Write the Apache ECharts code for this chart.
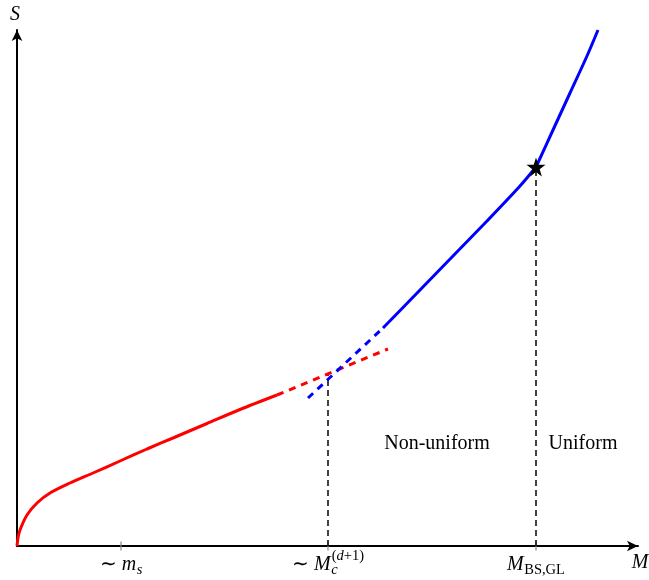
<!DOCTYPE html>
<html><head><meta charset="utf-8">
<script src="https://cdn.jsdelivr.net/npm/echarts@6/dist/echarts.min.js"></script>
<style>html,body{margin:0;padding:0;background:#fff}#c{width:649px;height:580px}</style>
</head><body><div id="c"></div>
<script>
// ---- data (arbitrary units) ----
const redSolid = [[0,0],[1,8],[3,16],[10,31],[20,43],[33,53],[53,63],[76,73],[103,85],[130,97],[156,108],[190,122.5],[223,136.5],[260,151]];
const redDotted = [[260,151],[371,197]];
const blueDashed = [[291,148],[366,218]];
const blueBelowStar = [[366,218],[403,256],[436,290],[470,325],[503,360],[519,379]];
const blueAboveStar = [[519,379],[536,416],[553,453],[570,490],[581,516]];
const critical = [311,171];
const bsPoint = [519,379];
const tickPositions = [104,311,519];
const tickLabels = ['∼ m_s','∼ M_c^{(d+1)}','M_{\\rm BS,GL}'];
const regionNames = ['Non-uniform','Uniform'];
const regionPos = [[420,102],[566,102]];
const xName = 'M', yName = 'S';
const xMax = 621, yMax = 516;

const FONT = '"Liberation Serif","Times New Roman",serif';
const chart = echarts.init(document.getElementById('c'), null, {renderer:'canvas'});
const starPath = 'path://M50,0 L61.8,35.6 L99,35.6 L69,57.6 L80.3,93 L50,71 L19.7,93 L31,57.6 L1,35.6 L38.2,35.6 Z';

const axisCommon = {
  type:'value', splitLine:{show:false}, axisTick:{show:false}, axisLabel:{show:false},
  axisLine:{show:true, symbol:['none','arrow'], symbolSize:[8,11], lineStyle:{color:'#000', width:2}}
};

chart.setOption({
  animation:false,
  grid:{left:17, right:11, top:30, bottom:34},
  xAxis:Object.assign({min:0,max:xMax}, axisCommon),
  yAxis:Object.assign({min:0,max:yMax}, axisCommon),
  series:[
    {type:'line', data:[[critical[0],0],critical], symbol:'none', lineStyle:{color:'#000',width:1.5,type:[6,4]}, z:1},
    {type:'line', data:[[bsPoint[0],0],bsPoint], symbol:'none', lineStyle:{color:'#000',width:1.5,type:[6,4]}, z:1},
    {type:'line', data:redSolid, symbol:'none', smooth:0.3, lineStyle:{color:'#ff0000',width:3}, z:3},
    {type:'line', data:redDotted, symbol:'none', lineStyle:{color:'#ff0000',width:3,type:[7,6]}, z:3},
    {type:'line', data:blueDashed, symbol:'none', lineStyle:{color:'#0000ff',width:3,type:[7,6]}, z:3},
    {type:'line', data:blueBelowStar, symbol:'none', smooth:0.3, lineStyle:{color:'#0000ff',width:3}, z:3},
    {type:'line', data:blueAboveStar, symbol:'none', smooth:0.3, lineStyle:{color:'#0000ff',width:3}, z:3},
    {type:'scatter', data:[bsPoint], symbol:starPath, symbolSize:19, itemStyle:{color:'#000',opacity:1}, z:5},
    {type:'scatter', data:tickPositions.map(x=>[x,0]), symbol:'rect', symbolSize:[1.2,9], itemStyle:{color:'#888',opacity:1}, z:0},
    {type:'scatter', data:regionPos.map((p,i)=>({value:p,name:regionNames[i]})), symbolSize:0, itemStyle:{opacity:1},
      label:{show:true, position:'inside', formatter:'{b}', color:'#000', textBorderWidth:0, fontFamily:FONT, fontSize:20}, z:4}
  ]
});

// ---- tiny math-label renderer ----
const mctx = document.createElement('canvas').getContext('2d');
function measure(t, italic, size){ mctx.font=(italic?'italic ':'')+size+'px '+FONT; return mctx.measureText(t).width; }
function readGroup(s,i){ if(s[i]==='{'){ let d=1,j=i+1; while(d>0){ if(s[j]==='{')d++; else if(s[j]==='}')d--; j++; } return [s.slice(i+1,j-1),j]; } return [s[i],i+1]; }
function segs(s, size){
  let rm=false; if(s.startsWith('\\rm ')){rm=true; s=s.slice(4);}
  const out=[];
  for(const ch of s){ const it = !rm && /[a-zA-Z]/.test(ch); const last=out[out.length-1];
    if(last && last.italic===it) last.t+=ch; else out.push({t:ch,italic:it,size}); }
  return out;
}
function layout(str, base, sub){
  const pieces=[]; let x=0, i=0, plain='';
  const flush=()=>{ if(plain){ for(const sg of segs(plain,base)){ pieces.push(Object.assign(sg,{x,dy:0})); x+=measure(sg.t,sg.italic,sg.size);} plain=''; } };
  while(i<str.length){
    const c=str[i];
    if(c==='_'||c==='^'){
      flush(); let start=x, adv=0, k=i;
      while(k<str.length && (str[k]==='_'||str[k]==='^')){
        const kind=str[k]; const [g,n]=readGroup(str,k+1); k=n;
        let xx=start+(kind==='^'?1:0.5);
        for(const sg of segs(g,sub)){ pieces.push(Object.assign(sg,{x:xx,dy:kind==='_'?4:-10})); xx+=measure(sg.t,sg.italic,sg.size);} adv=Math.max(adv,xx-start);
      }
      x=start+adv; i=k;
    } else { plain+=c; i++; }
  }
  flush();
  return {pieces,width:x};
}
function mathText(str, cx, baseline, base, sub){
  const L=layout(str, base, sub); const x0=cx-L.width/2;
  return L.pieces.map(p=>({type:'text', silent:true, x:x0+p.x, y:baseline+p.dy-0.3375*p.size,
    style:{text:p.t, font:(p.italic?'italic ':'')+p.size+'px '+FONT, fill:'#000', textAlign:'left', textVerticalAlign:'middle'}}));
}

function addGraphics(){
  const g=[];
  tickPositions.forEach((v,i)=>{
    const px=chart.convertToPixel({xAxisIndex:0}, v);
    g.push(...mathText(tickLabels[i], px, 571, 20, 14.5));
  });
  const xEnd=chart.convertToPixel({gridIndex:0},[xMax,0]);
  const yEnd=chart.convertToPixel({gridIndex:0},[0,yMax]);
  g.push(...mathText(xName, xEnd[0]+2, xEnd[1]+23, 20, 14));
  g.push(...mathText(yName, yEnd[0]-2, yEnd[1]-9, 20, 14));
  chart.setOption({graphic:g});
}
addGraphics();
</script></body></html>
